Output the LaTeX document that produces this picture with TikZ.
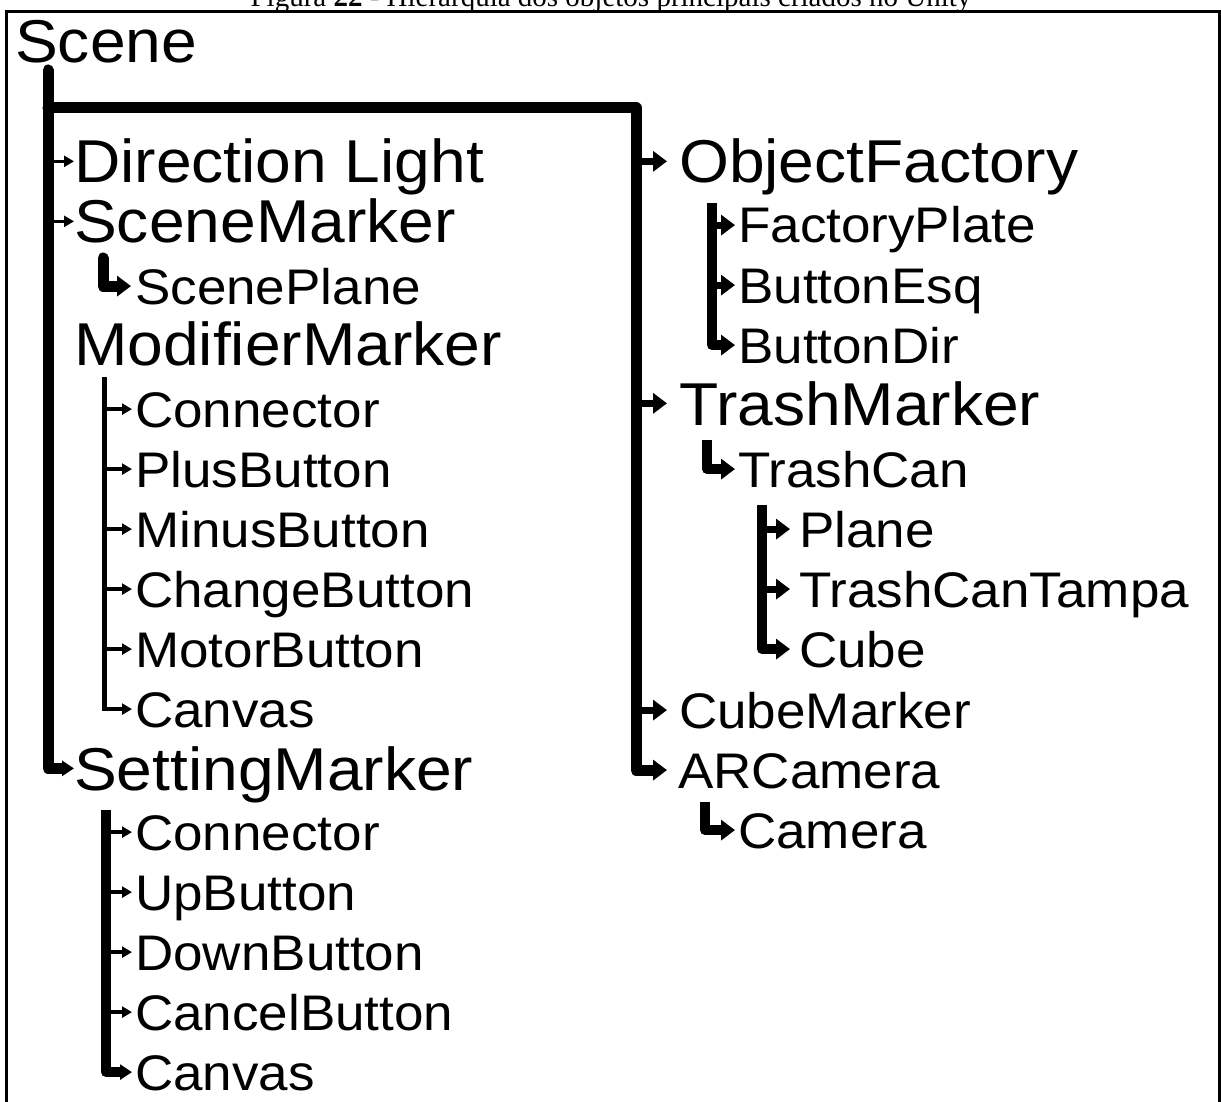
\documentclass[tikz,border=0pt]{standalone}
\usepackage{fontspec}
\setmainfont{Liberation Serif}
\newfontfamily\treefont[FakeStretch=1.06]{Liberation Sans}
\usetikzlibrary{arrows.meta}
\newcommand{\bigtxt}{\treefont\fontsize{60.5}{62}\selectfont}
\newcommand{\smalltxt}{\treefont\fontsize{50}{52}\selectfont}

\begin{document}
\begin{tikzpicture}[x=1pt,y=-1pt,
    big/.style={font=\bigtxt, inner sep=0pt, text height=43.3pt, text depth=0pt, anchor=base west},
    small/.style={font=\smalltxt, inner sep=0pt, text height=35.8pt, text depth=0pt, anchor=base west},
    trunk/.style={line width=11pt, line cap=round, line join=round},
    bar/.style={line width=10pt, line join=round},
    thinbar/.style={line width=4.5pt},
    stub/.style={line width=3.5pt},
    fatstub/.style={line width=7pt},
    smalltip/.style={-{Triangle[length=10pt,width=11pt]}},
    midtip/.style={-{Triangle[length=12pt,width=15pt]}},
    fattip/.style={-{Triangle[length=14pt,width=20pt]}}]
    \useasboundingbox (0,0) rectangle (1221,1102);
    % Caption (cut at the top)
    \node[font=\fontsize{29}{30}\selectfont, anchor=base] (caption) at (611,6.5)
      {Figura \textbf{22} - Hierarquia dos objetos principais criados no Unity};
    % Frame
    \draw[line width=3.5pt] (6.5,1120) -- (6.5,11.5) -- (1219.5,11.5) -- (1219.5,1120);

    % Left column
    \node[big] (scene) at (15,63) {Scene};
    \node[big] (dlight) at (74,183) {Direction Light};
    \node[big] (smark) at (74,243) {SceneMarker};
    \node[small] (splane) at (135,304) {ScenePlane};
    \node[big] (mmark) at (74,365) {ModifierMarker};
    \node[small] (mconn) at (135,427) {Connector};
    \node[small] (mplus) at (135,487) {PlusButton};
    \node[small] (mminus) at (135,547) {MinusButton};
    \node[small] (mchange) at (135,607) {ChangeButton};
    \node[small] (mmotor) at (135,667) {MotorButton};
    \node[small] (mcanvas) at (135,727) {Canvas};
    \node[big] (setmark) at (74,790) {SettingMarker};
    \node[small] (sconn) at (135,850) {Connector};
    \node[small] (sbtnup) at (135,910) {UpButton};
    \node[small] (sdown) at (135,970) {DownButton};
    \node[small] (scancel) at (135,1030) {CancelButton};
    \node[small] (scanvas) at (135,1090) {Canvas};

    % Right column
    \node[big] (objf) at (679,183) {ObjectFactory};
    \node[small] (fplate) at (738,243) {FactoryPlate};
    \node[small] (besq) at (738,303) {ButtonEsq};
    \node[small] (bdir) at (738,363) {ButtonDir};
    \node[big] (tmark) at (679,425) {TrashMarker};
    \node[small] (tcan) at (738,487) {TrashCan};
    \node[small] (plane) at (799,547) {Plane};
    \node[small] (tampa) at (799,607) {TrashCanTampa};
    \node[small] (cube) at (799,667) {Cube};
    \node[small] (cmark) at (679,728) {CubeMarker};
    \node[small] (arcam) at (678,788) {ARCamera};
    \node[small] (camera) at (738,848) {Camera};

    % Main trunk
    \coordinate (lt) at (48,70);
    \coordinate (rt) at (636,108);
    \draw[trunk, midtip] (lt) |- (setmark.west);
    \draw[trunk, fattip, shorten >=11pt] (lt |- rt) -- (rt) |- (arcam.west);
    \draw[stub, smalltip] (dlight.west -| lt) -- (dlight.west);
    \draw[stub, smalltip] (smark.west -| lt) -- (smark.west);
    \draw[trunk, fattip, shorten >=4pt] (103,258) |- (splane.west);

    % ModifierMarker children
    \coordinate (mv) at (104.5,377);
    \draw[thinbar, smalltip, shorten >=3pt] (mv) |- (mcanvas.west);
    \foreach \k in {mconn,mplus,mminus,mchange,mmotor}
      \draw[stub, smalltip, shorten >=3pt] (\k.west -| mv) -- (\k.west);

    % SettingMarker children
    \coordinate (sv) at (106,810);
    \draw[bar, midtip, shorten >=3pt] (sv) |- (scanvas.west);
    \foreach \k in {sconn,sbtnup,sdown,scancel}
      \draw[stub, smalltip, shorten >=3pt] (\k.west -| sv) -- (\k.west);

    % Right trunk
    \foreach \k in {objf,tmark,cmark}
      \draw[fatstub, fattip, shorten >=12pt] (\k.west -| rt) -- (\k.west);

    % ObjectFactory children
    \coordinate (ov) at (712,203);
    \draw[bar, fattip, shorten >=3pt] (ov) |- (bdir.west);
    \foreach \k in {fplate,besq}
      \draw[fatstub, fattip, shorten >=3pt] (\k.west -| ov) -- (\k.west);

    % TrashMarker children
    \draw[bar, fattip, shorten >=3pt] (707,440) |- (tcan.west);
    \coordinate (tv) at (762,505);
    \draw[bar, fattip, shorten >=9pt] (tv) |- (cube.west);
    \foreach \k in {plane,tampa}
      \draw[fatstub, fattip, shorten >=9pt] (\k.west -| tv) -- (\k.west);

    % ARCamera child
    \draw[bar, fattip, shorten >=3pt] (705,802) |- (camera.west);
\end{tikzpicture}
\end{document}
